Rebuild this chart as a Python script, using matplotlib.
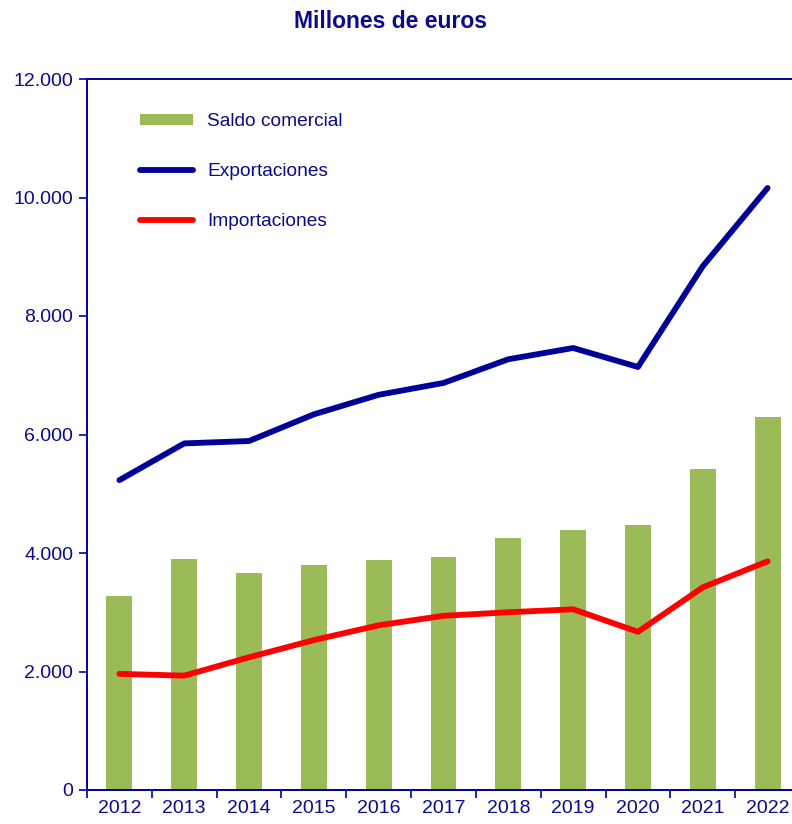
import matplotlib
matplotlib.use('Agg')
import matplotlib.pyplot as plt
from matplotlib.ticker import FuncFormatter

years = ['2012', '2013', '2014', '2015', '2016', '2017', '2018', '2019', '2020', '2021', '2022']
saldo = [3270, 3900, 3660, 3800, 3880, 3930, 4250, 4390, 4470, 5420, 6290]
exportaciones = [5230, 5850, 5890, 6340, 6670, 6870, 7270, 7460, 7140, 8840, 10160]
importaciones = [1960, 1930, 2240, 2530, 2780, 2940, 3000, 3050, 2670, 3420, 3860]

NAVY = '#000099'
TEXT = '#0a0a8a'
GREEN = '#9BBB59'
RED = '#FF0000'

plt.rcParams['font.family'] = ['Liberation Sans', 'DejaVu Sans']

fig = plt.figure(figsize=(7.92, 8.24), dpi=100)
ax = fig.add_axes([87 / 792, 1 - 790 / 824, 713 / 792, 711 / 824])

x = list(range(len(years)))
b = ax.bar(x, saldo, width=0.4, color=GREEN, label='Saldo comercial', zorder=2)
e, = ax.plot(x, exportaciones, color=NAVY, lw=4.2, solid_capstyle='round',
             solid_joinstyle='round', label='Exportaciones', zorder=3)
i, = ax.plot(x, importaciones, color=RED, lw=4.2, solid_capstyle='round',
             solid_joinstyle='round', label='Importaciones', zorder=3)

ax.set_xlim(-0.5, len(years) - 0.5)
ax.set_ylim(0, 12000)
ax.set_yticks(range(0, 12001, 2000))
ax.yaxis.set_major_formatter(FuncFormatter(lambda v, p: '{:,.0f}'.format(v).replace(',', '.')))

# ticks between the categories, labels centred under the bars
ax.set_xticks([k - 0.5 for k in x] + [len(years) - 0.5])
ax.set_xticklabels([])
ax.set_xticks(x, minor=True)
ax.set_xticklabels(years, minor=True)
ax.tick_params(axis='x', which='minor', length=0, pad=7)
ax.tick_params(axis='x', which='major', direction='out', length=6, color=NAVY, width=1.2)
ax.tick_params(axis='y', direction='out', length=6, color=NAVY, width=1.2, pad=4)
ax.tick_params(axis='both', which='both', labelsize=14, labelcolor=TEXT)

for s in ['left', 'bottom', 'top']:
    ax.spines[s].set_color(NAVY)
    ax.spines[s].set_linewidth(1.4)
ax.spines['right'].set_visible(False)

fig.text(390 / 792, 1 - 21 / 824, 'Millones de euros', ha='center', va='center',
         fontsize=16.5, fontweight='bold', color=TEXT)

leg = ax.legend(handles=[b, e, i], loc='upper left', bbox_to_anchor=(0.05, 0.976),
                frameon=False, fontsize=13.8, labelspacing=1.72, handlelength=2.75,
                handletextpad=0.75, handleheight=0.5)
for t in leg.get_texts():
    t.set_color(TEXT)

plt.savefig('out.png', dpi=100)
